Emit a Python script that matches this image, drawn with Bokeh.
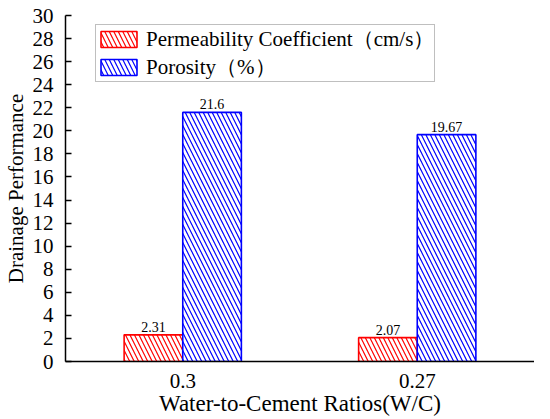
from bokeh.plotting import figure
from bokeh.models import ColumnDataSource, FactorRange, Range1d, SingleIntervalTicker, Legend, LegendItem
from bokeh.transform import dodge
from bokeh.core.properties import value
from bokeh.embed import file_html
from bokeh.resources import INLINE

ratios = ["0.3", "0.27"]
permeability = [2.31, 2.07]
porosity = [21.6, 19.67]
perm_labels = ["2.31", "2.07"]
poro_labels = ["21.6", "19.67"]
series_names = ["Permeability Coefficient（cm/s）", "Porosity（%）"]

FONT = "Liberation Serif"

src = ColumnDataSource(dict(x=ratios, perm=permeability, poro=porosity,
                            perm_lab=perm_labels, poro_lab=poro_labels))

p = figure(width=534, height=418, output_backend="svg", toolbar_location=None,
           x_range=FactorRange(*ratios, range_padding=0), y_range=Range1d(0, 30),
           min_border_left=58, min_border_right=0, min_border_top=15, min_border_bottom=56)
p.outline_line_color = None
p.xgrid.visible = False
p.ygrid.visible = False
p.background_fill_color = "white"

r1 = p.vbar(x=dodge("x", -0.125, range=p.x_range), top="perm", width=0.25, source=src,
            fill_color="white", line_color="#ff0000", line_width=1.6,
            hatch_pattern="left_diagonal_line", hatch_color="#ff0000", hatch_scale=9, hatch_weight=1.2)
r2 = p.vbar(x=dodge("x", 0.125, range=p.x_range), top="poro", width=0.25, source=src,
            fill_color="white", line_color="#0000ff", line_width=1.6,
            hatch_pattern="left_diagonal_line", hatch_color="#0000ff", hatch_scale=9, hatch_weight=1.2)

p.text(x=dodge("x", -0.125, range=p.x_range), y="perm", text="perm_lab", source=src,
       text_font=value(FONT), text_font_size="14px", text_align="center",
       text_baseline="bottom", y_offset=-3, text_color="black")
p.text(x=dodge("x", 0.125, range=p.x_range), y="poro", text="poro_lab", source=src,
       text_font=value(FONT), text_font_size="14px", text_align="center",
       text_baseline="bottom", y_offset=-3, text_color="black")

legend = Legend(items=[LegendItem(label=series_names[0], renderers=[r1]),
                       LegendItem(label=series_names[1], renderers=[r2])],
                location=(30, 279), glyph_width=45, glyph_height=20, label_height=20,
                spacing=-6, padding=0, margin=0, label_standoff=5,
                label_text_font=FONT, label_text_font_size="21px", label_text_line_height=1.0,
                label_text_color="black",
                border_line_color="#808080", border_line_width=1, background_fill_alpha=1)
p.add_layout(legend, "center")

p.yaxis.ticker = SingleIntervalTicker(interval=2)
p.yaxis.major_tick_in = 6
p.yaxis.major_tick_out = 0
p.yaxis.minor_tick_line_color = None
p.xaxis.minor_tick_line_color = None
for ax in (p.xaxis, p.yaxis):
    ax.axis_line_color = "black"
    ax.axis_line_width = 1.5
    ax.major_tick_line_width = 1.5
    ax.major_label_text_font = FONT
    ax.major_label_text_font_size = "21px"
    ax.major_label_text_color = "black"
    ax.axis_label_text_font = FONT
    ax.axis_label_text_font_style = "normal"
    ax.axis_label_text_color = "black"
p.xaxis.major_tick_line_color = None
p.yaxis.major_tick_line_color = "black"
p.yaxis.major_label_standoff = 8
p.xaxis.major_label_standoff = 6
p.yaxis.axis_label = "Drainage Performance"
p.xaxis.axis_label = "Water-to-Cement Ratios(W/C)"
p.yaxis.axis_label_text_font_size = "21px"
p.xaxis.axis_label_text_font_size = "23px"
p.yaxis.axis_label_standoff = 2
p.xaxis.axis_label_standoff = 0

open("out.html", "w").write(file_html(p, INLINE))
